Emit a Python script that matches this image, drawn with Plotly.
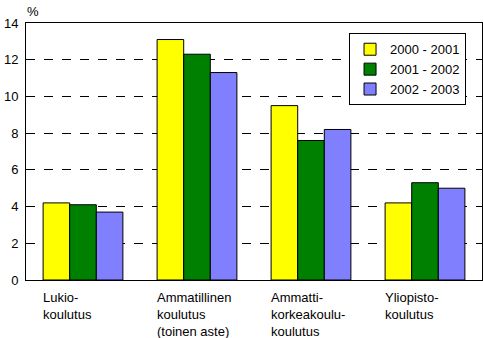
import plotly.graph_objects as go

categories = ["Lukio", "Ammatillinen", "Ammattikorkea", "Yliopisto"]
cat_labels = ["Lukio-<br>koulutus", "Ammatillinen<br>koulutus<br>(toinen aste)",
              "Ammatti-<br>korkeakoulu-<br>koulutus", "Yliopisto-<br>koulutus"]
series_names = ["2000 - 2001", "2001 - 2002", "2002 - 2003"]
v2000 = [4.2, 13.1, 9.5, 4.2]
v2001 = [4.1, 12.3, 7.6, 5.3]
v2002 = [3.7, 11.3, 8.2, 5.0]
colors = ["#FFFF00", "#008000", "#8080FF"]
yticks = [0, 2, 4, 6, 8, 10, 12, 14]

font = "Liberation Sans, Arial, sans-serif"
fig = go.Figure()
for name, vals, c in zip(series_names, [v2000, v2001, v2002], colors):
    fig.add_trace(go.Bar(x=categories, y=vals, name=name, marker_color=c,
                         marker_line_color="black", marker_line_width=1))

fig.update_layout(
    width=483, height=338,
    margin=dict(l=26, r=1, t=23, b=58),
    plot_bgcolor="white", paper_bgcolor="white",
    barmode="group", bargap=0.3, bargroupgap=0,
    font=dict(family=font, size=13, color="black"),
    showlegend=True,
    legend=dict(x=0.965, y=0.96, xanchor="right", yanchor="top",
                bordercolor="black", borderwidth=1, bgcolor="white",
                font=dict(family=font, size=13), tracegroupgap=0,
                itemwidth=30),
)
fig.update_xaxes(showticklabels=False, showline=True, linecolor="black",
                 linewidth=1, mirror=True, showgrid=False)
fig.update_yaxes(range=[0, 14], tickvals=yticks, showline=True, linecolor="black",
                 linewidth=1, mirror=True, showgrid=True, gridcolor="black",
                 griddash="dash", gridwidth=1, zeroline=False, ticks="",
                 ticklabelstandoff=4,
                 tickfont=dict(family=font, size=13))

for cat, lab in zip(categories, cat_labels):
    fig.add_annotation(x=cat, y=0, xref="x", yref="paper", text=lab,
                       showarrow=False, xanchor="left", yanchor="top",
                       align="left", xshift=-42, yshift=-8,
                       font=dict(family=font, size=13))
fig.add_annotation(x=0, y=1, xref="paper", yref="paper", text="%",
                   showarrow=False, xanchor="left", yanchor="bottom",
                   xshift=-1, yshift=2, font=dict(family=font, size=13))

fig.write_html("out.html")
